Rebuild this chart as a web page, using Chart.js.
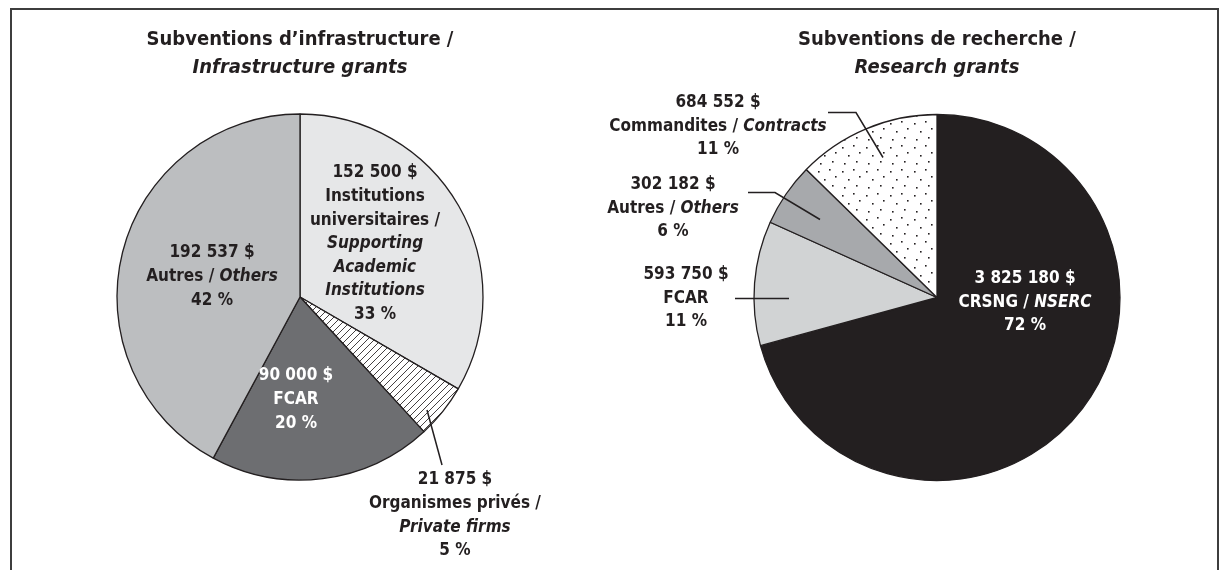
<!DOCTYPE html>
<html><head><meta charset="utf-8">
<script src="https://cdn.jsdelivr.net/npm/chart.js@4.4.0/dist/chart.umd.min.js"></script>
<style>
html,body{margin:0;padding:0;background:#fff;width:1227px;height:570px;overflow:hidden;}
#frame{position:absolute;left:10px;top:8px;width:1209px;height:640px;border:2px solid #3d3d3d;box-sizing:border-box;}
#w1{position:absolute;left:0;top:0;width:600px;height:570px;}
#w2{position:absolute;left:600px;top:0;width:627px;height:570px;}
</style></head><body>
<div id="frame"></div>
<div id="w1"><canvas id="c1"></canvas></div>
<div id="w2"><canvas id="c2"></canvas></div>
<script>
// ---------- DATA ----------
const infraTitle = 'Subventions d\u2019infrastructure /';
const infraSubtitle = 'Infrastructure grants';
const infraCategories = ['Institutions universitaires / Supporting Academic Institutions', 'Organismes privés / Private firms', 'FCAR', 'Autres / Others'];
const infraValues = [152500, 21875, 90000, 192537];
const infraPercents = ['33 %', '5 %', '20 %', '42 %'];
const infraNameLines = [
  [[['Institutions', 0]], [['universitaires /', 0]], [['Supporting', 1]], [['Academic', 1]], [['Institutions', 1]]],
  [[['Organismes privés /', 0]], [['Private firms', 1]]],
  [[['FCAR', 0]]],
  [[['Autres / ', 0], ['Others', 1]]]
];

const researchTitle = 'Subventions de recherche /';
const researchSubtitle = 'Research grants';
const researchCategories = ['CRSNG / NSERC', 'FCAR', 'Autres / Others', 'Commandites / Contracts'];
const researchValues = [3825180, 593750, 302182, 684552];
const researchPercents = ['72 %', '11 %', '6 %', '11 %'];
const researchNameLines = [
  [[['CRSNG / ', 0], ['NSERC', 1]]],
  [[['FCAR', 0]]],
  [[['Autres / ', 0], ['Others', 1]]],
  [[['Commandites / ', 0], ['Contracts', 1]]]
];

// ---------- STYLE / PLACEMENT ----------
const FONT = '"DejaVu Sans Condensed", "DejaVu Sans", sans-serif';
const INK = '#231f20';
const LABEL_SIZE = 17;
const LINE_GAP = 23.6;

const infraLabelPos = [{dx: 75, dy: -124}, {dx: 155, dy: 183}, {dx: -4, dy: 79}, {dx: -88, dy: -44}];
const infraLabelColor = [INK, INK, '#ffffff', INK];
const infraCallouts = [null, [[127, 113], [142, 168]], null, null];

const researchLabelPos = [{dx: 88, dy: -19}, {dx: -251, dy: -23}, {dx: -264, dy: -113}, {dx: -219, dy: -195}];
const researchLabelColor = ['#ffffff', INK, INK, INK];
const researchCallouts = [null, [[-202, 1], [-148, 1]], [[-189, -105], [-162, -105], [-117, -78]], [[-109, -185], [-81, -185], [-54, -140]]];

function hatchPattern() {
  const s = 7;
  const c = document.createElement('canvas'); c.width = s; c.height = s;
  const g = c.getContext('2d');
  g.fillStyle = '#ffffff'; g.fillRect(0, 0, s, s);
  g.strokeStyle = INK; g.lineWidth = 0.85;
  [[-1, s + 1, s + 1, -1], [-1, 1, 1, -1], [s - 1, s + 1, s + 1, s - 1]].forEach(l => {
    g.beginPath(); g.moveTo(l[0], l[1]); g.lineTo(l[2], l[3]); g.stroke();
  });
  return g.createPattern(c, 'repeat');
}
function dotPattern() {
  const s = 24;
  const c = document.createElement('canvas'); c.width = s; c.height = s;
  const g = c.getContext('2d');
  g.fillStyle = '#ffffff'; g.fillRect(0, 0, s, s);
  g.fillStyle = INK;
  [[2, 3], [13, 1], [8, 11], [19, 8], [4, 19], [16, 17]].forEach(p => g.fillRect(p[0], p[1], 1.6, 1.6));
  return g.createPattern(c, 'repeat');
}

function formatAmount(v) {
  return String(v).replace(/\B(?=(\d{3})+(?!\d))/g, ' ') + ' $';
}

function drawSegLine(ctx, segs, cx, y, color) {
  const fonts = segs.map(s => (s[1] ? 'italic ' : '') + 'bold ' + LABEL_SIZE + 'px ' + FONT);
  const widths = segs.map((s, i) => { ctx.font = fonts[i]; return ctx.measureText(s[0]).width; });
  let x = cx - widths.reduce((a, b) => a + b, 0) / 2;
  ctx.textAlign = 'left'; ctx.textBaseline = 'middle'; ctx.fillStyle = color;
  segs.forEach((s, i) => { ctx.font = fonts[i]; ctx.fillText(s[0], x, y); x += widths[i]; });
}

function labelPlugin(values, nameLines, percents, pos, colors, callouts) {
  return {
    id: 'sliceLabels',
    afterDatasetsDraw(chart) {
      const ctx = chart.ctx;
      const arc = chart.getDatasetMeta(0).data[0];
      const cx = arc.x, cy = arc.y;
      ctx.save();
      ctx.strokeStyle = INK; ctx.lineWidth = 1.5;
      callouts.forEach(pts => {
        if (!pts) return;
        ctx.beginPath();
        pts.forEach((p, i) => i ? ctx.lineTo(cx + p[0], cy + p[1]) : ctx.moveTo(cx + p[0], cy + p[1]));
        ctx.stroke();
      });
      values.forEach((v, i) => {
        const lines = [[[formatAmount(v), 0]]].concat(nameLines[i], [[[percents[i], 0]]]);
        lines.forEach((segs, k) => drawSegLine(ctx, segs, cx + pos[i].dx, cy + pos[i].dy + k * LINE_GAP, colors[i]));
      });
      ctx.restore();
    }
  };
}

function makeChart(id, title, subtitle, cats, values, colors, padding, plugin) {
  return new Chart(document.getElementById(id), {
    type: 'pie',
    data: {labels: cats, datasets: [{data: values, backgroundColor: colors, borderColor: INK, borderWidth: 1.3, radius: 183, hoverOffset: 0}]},
    options: {
      responsive: true, maintainAspectRatio: false, animation: false,
      events: [],
      layout: {padding: padding},
      plugins: {
        legend: {display: false}, tooltip: {enabled: false},
        title: {display: true, text: title, color: INK, font: {family: FONT, size: 20, weight: 'bold'}, padding: {top: 28, bottom: 0}},
        subtitle: {display: true, text: subtitle, color: INK, font: {family: FONT, size: 20, weight: 'bold', style: 'italic'}, padding: {top: 4, bottom: 0}}
      }
    },
    plugins: [plugin]
  });
}

makeChart('c1', infraTitle, infraSubtitle, infraCategories, infraValues,
  ['#e6e7e8', hatchPattern(), '#6d6e71', '#bcbec0'],
  {top: 0, bottom: 56, left: 0, right: 0},
  labelPlugin(infraValues, infraNameLines, infraPercents, infraLabelPos, infraLabelColor, infraCallouts));

makeChart('c2', researchTitle, researchSubtitle, researchCategories, researchValues,
  ['#231f20', '#d1d3d4', '#a7a9ac', dotPattern()],
  {top: 0, bottom: 55, left: 47, right: 0},
  labelPlugin(researchValues, researchNameLines, researchPercents, researchLabelPos, researchLabelColor, researchCallouts));
</script></body></html>
